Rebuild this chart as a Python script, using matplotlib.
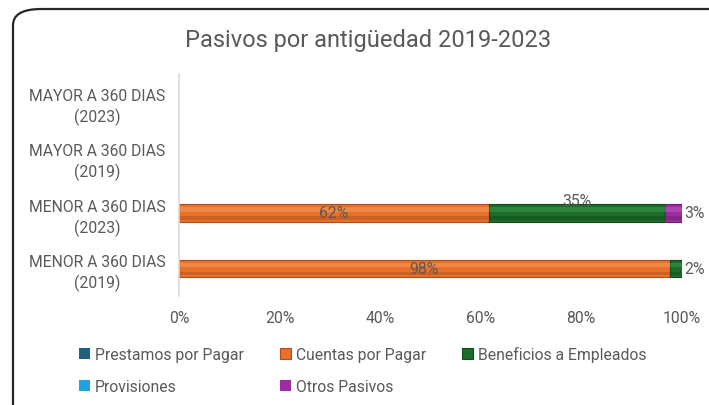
import matplotlib
matplotlib.use("Agg")
import matplotlib.pyplot as plt
from matplotlib.patches import FancyBboxPatch
import numpy as np

plt.rcParams['font.family'] = ['Roboto', 'DejaVu Sans']

categorias = ["MENOR A 360 DIAS\n(2019)", "MENOR A 360 DIAS\n(2023)",
              "MAYOR A 360 DIAS\n(2019)", "MAYOR A 360 DIAS\n(2023)"]
series = ["Prestamos por Pagar", "Cuentas por Pagar", "Beneficios a Empleados",
          "Provisiones", "Otros Pasivos"]
prestamos = [0.0, 0.0, 0.0, 0.0]
cuentas = [0.976, 0.616, 0.0, 0.0]
beneficios = [0.024, 0.350, 0.0, 0.0]
provisiones = [0.0, 0.0, 0.0, 0.0]
otros = [0.0, 0.034, 0.0, 0.0]
ticks = [0, 0.2, 0.4, 0.6, 0.8, 1.0]
tick_labels = ["0%", "20%", "40%", "60%", "80%", "100%"]

colores = ["#1F5F7F", "#E8702A", "#1E6B2C", "#1AA3DE", "#9B2D9E"]
claros = ["#3F86A8", "#F59A5C", "#3A9A4C", "#5CC3EE", "#C15AC4"]
oscuros = ["#164559", "#A9511E", "#124A1E", "#1481B0", "#6E1F70"]

valores = [prestamos, cuentas, beneficios, provisiones, otros]
gris = "#595959"
fs = 11.3

fig = plt.figure(figsize=(7.09, 4.06), dpi=100)
ax = fig.add_axes([0.2525, 0.268, 0.709, 0.547])

y = np.arange(len(categorias))
h = 0.31
left = np.zeros(len(categorias))
handles = []
for nombre, vals, c, cl, co in zip(series, valores, colores, claros, oscuros):
    vals = np.array(vals)
    lw = [0.8 if v > 0 else 0 for v in vals]
    b = ax.barh(y, vals, h, left=left, color=c, edgecolor=co, linewidth=lw, label=nombre)
    # bisel: franja clara arriba, oscura abajo
    ax.barh(y + h * 0.2, vals, h * 0.25, left=left, color=cl, linewidth=0, alpha=0.55)
    ax.barh(y - h * 0.3, vals, h * 0.2, left=left, color=co, linewidth=0, alpha=0.45)
    handles.append(b)
    for i, v in enumerate(vals):
        if v <= 0:
            continue
        txt = f"{v * 100:.0f}%"
        if v < 0.05:
            ax.text(left[i] + v + 0.005, y[i], txt, ha="left", va="center",
                    fontsize=fs, color=gris)
        elif nombre == "Beneficios a Empleados":
            ax.text(left[i] + v / 2, y[i] + h * 0.7, txt, ha="center", va="center",
                    fontsize=fs, color=gris)
        else:
            ax.text(left[i] + v / 2, y[i], txt, ha="center", va="center",
                    fontsize=fs, color=gris)
    left = left + vals

ax.set_xlim(0, 1.0)
ax.set_ylim(-0.5, 3.5)
ax.set_yticks(y)
ax.set_yticklabels(categorias, fontsize=fs, color=gris, ha="center",
                   linespacing=1.35)
ax.tick_params(axis="y", length=0, pad=59)
ax.set_xticks(ticks)
ax.set_xticklabels(tick_labels, fontsize=fs, color=gris)
ax.tick_params(axis="x", length=0, pad=10)
for s in ["top", "right", "bottom"]:
    ax.spines[s].set_visible(False)
ax.spines["left"].set_color("#D9D9D9")
ax.spines["left"].set_linewidth(1.2)

fig.text(0.519, 0.9, "Pasivos por antigüedad 2019-2023", ha="center", va="center",
         fontsize=17, color=gris)

orden = [0, 3, 1, 4, 2]
leg = fig.legend([handles[i] for i in orden], [series[i] for i in orden],
                 ncol=3, loc="upper left", bbox_to_anchor=(0.112, 0.145),
                 frameon=False, fontsize=fs, handlelength=0.7, handleheight=0.7,
                 handletextpad=0.3, columnspacing=2.3, labelspacing=1.1,
                 borderpad=0, borderaxespad=0)
for t in leg.get_texts():
    t.set_color(gris)

borde = FancyBboxPatch((13 / 709, -0.2), 1.2, 1.2 - 10 / 406,
                       boxstyle="round,pad=0,rounding_size=0.04",
                       transform=fig.transFigure, fill=False,
                       edgecolor="#262626", linewidth=1.6)
fig.patches.append(borde)

fig.savefig("out.png", dpi=100)
